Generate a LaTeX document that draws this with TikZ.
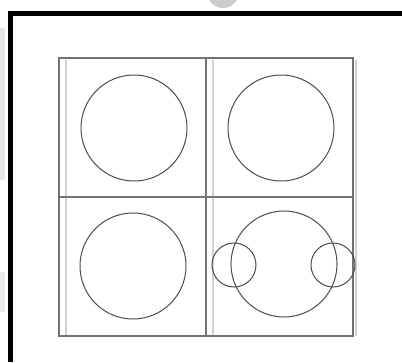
\documentclass[tikz,border=0pt]{standalone}
\begin{document}
\begin{tikzpicture}[x=1pt,y=-1pt,
  gridline/.style={draw=black!55,line width=1.1pt},
  shadowline/.style={draw=black!18,line width=1.2pt},
  ring/.style={draw=black!70,line width=1pt},
  frameline/.style={draw=black,line width=5pt}]
\useasboundingbox (0,0) rectangle (402,362);
\fill[white] (0,0) rectangle (402,362);
% faint watermark remnants
\fill[black!20] (223,-8) circle (16);
\fill[black!10] (0,28) rectangle (5,180);
\fill[black!8] (0,272) rectangle (5,312);
% black frame
\draw[frameline] (8,13) -- (402,13);
\draw[frameline] (10.5,11) -- (10.5,362);
% shadow lines
\draw[shadowline] (213,60) -- (213,336);
\draw[shadowline] (66,60) -- (66,336);
\draw[shadowline] (356,60) -- (356,336);
% grid
\draw[gridline] (59,58) rectangle (353,336);
\draw[gridline] (206,58) -- (206,336);
\draw[gridline] (59,197) -- (353,197);
% circles
\draw[ring] (134,128) circle (53);
\draw[ring] (281,128) circle (53);
\draw[ring] (133,266) circle (53);
\draw[ring] (284,264) circle (53);
\draw[ring] (234,265) circle (22);
\draw[ring] (333,265) circle (22);
\end{tikzpicture}
\end{document}
